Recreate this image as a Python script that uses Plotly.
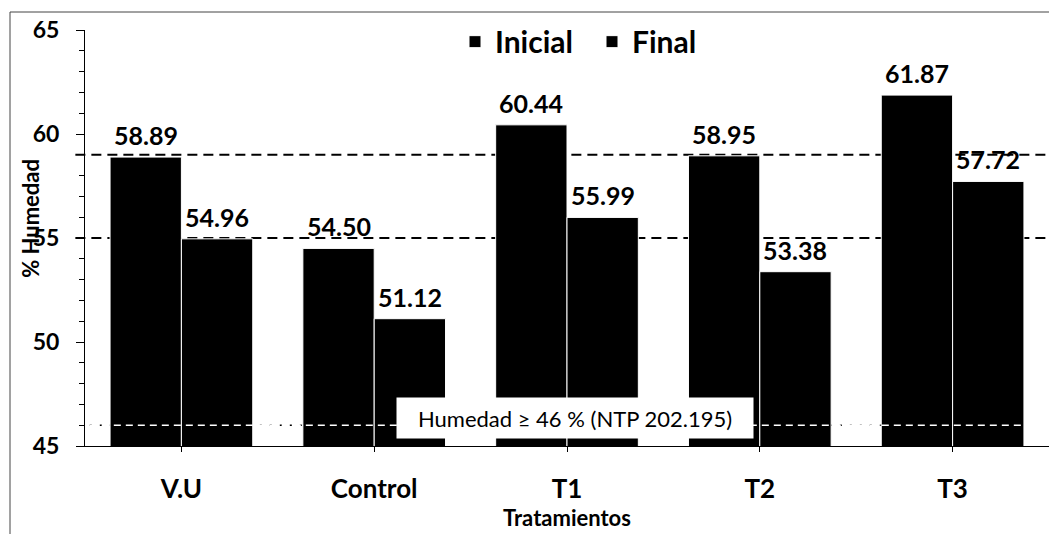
import plotly.graph_objects as go

# Moisture content per treatment, initial vs final
tratamientos = ["V.U", "Control", "T1", "T2", "T3"]
inicial = [58.89, 54.50, 60.44, 58.95, 61.87]
final = [54.96, 51.12, 55.99, 53.38, 57.72]

ref_lines = [59, 55]      # dashed reference levels
limite_ntp = 46           # minimum moisture from NTP 202.195
y_ticks = [45, 50, 55, 60, 65]

FONT = "Lato"
W, H = 1049, 534
ML, MR, MT, MB = 85, 0, 30, 88
plot_w = W - ML - MR
bargap = 0.26
bar_px = plot_w / len(tratamientos) * (1 - bargap) / 2

fig = go.Figure()
fig.add_trace(go.Bar(name="Inicial", x=tratamientos, y=inicial,
                     marker=dict(color="black", line=dict(color="white", width=1))))
fig.add_trace(go.Bar(name="Final", x=tratamientos, y=final,
                     marker=dict(color="black", line=dict(color="white", width=1))))

# value labels above each bar
annotations = []
for vals, sign in ((inicial, -1), (final, 1)):
    for cat, v in zip(tratamientos, vals):
        annotations.append(dict(
            x=cat, y=v, xref="x", yref="y", text=f"{v:.2f}", showarrow=False,
            xshift=sign * bar_px / 2, yshift=5, yanchor="bottom",
            font=dict(family=FONT, size=25, color="black", weight="bold")))

# NTP note box
annotations.append(dict(
    x=0.508, y=46.37, xref="paper", yref="y", showarrow=False,
    text="Humedad ≥ 46 % (NTP 202.195)", bgcolor="white",
    width=354, height=38, align="center",
    font=dict(family=FONT, size=22, color="black")))

# rotated y-axis title
annotations.append(dict(
    x=(31 - ML) / plot_w, y=0.546, xref="paper", yref="paper", showarrow=False,
    xanchor="center", yanchor="middle",
    text="% Humedad", textangle=-90,
    font=dict(family=FONT, size=22, color="black", weight="bold")))

shapes = []
for lvl in ref_lines:
    shapes.append(dict(type="line", xref="paper", yref="y", x0=-0.01, x1=1,
                       y0=lvl, y1=lvl, layer="below",
                       line=dict(color="black", width=2, dash="10px,6px")))
shapes.append(dict(type="line", xref="paper", yref="y", x0=0.005, x1=0.98,
                   y0=limite_ntp, y1=limite_ntp, layer="below",
                   line=dict(color="black", width=1.5, dash="2px,8px")))
shapes.append(dict(type="line", xref="paper", yref="y", x0=0.005, x1=0.98,
                   y0=limite_ntp, y1=limite_ntp, layer="above",
                   line=dict(color="white", width=1.5, dash="7px,5px")))

# outer frame (left and top edges)
plot_h = H - MT - MB
fx = (10 - ML) / plot_w
fy_top = 1 + (MT - 12) / plot_h
fy_bot = -(H - (H - MB)) / plot_h
shapes.append(dict(type="line", xref="paper", yref="paper", x0=fx, x1=fx,
                   y0=fy_bot, y1=fy_top, line=dict(color="#444", width=1)))
shapes.append(dict(type="line", xref="paper", yref="paper", x0=fx, x1=1.0,
                   y0=fy_top, y1=fy_top, line=dict(color="#444", width=1)))

fig.update_layout(
    width=W, height=H,
    margin=dict(l=ML, r=MR, t=MT, b=MB),
    paper_bgcolor="white", plot_bgcolor="white",
    barmode="group", bargap=bargap, bargroupgap=0,
    font=dict(family=FONT, color="black"),
    legend=dict(orientation="h", x=(455 - ML) / plot_w, xanchor="left", y=0.972,
                yanchor="middle", font=dict(family=FONT, size=30, weight="bold"),
                bgcolor="rgba(0,0,0,0)", itemwidth=30, entrywidth=92),
    annotations=annotations,
    shapes=shapes,
    xaxis=dict(
        showline=True, linecolor="black", linewidth=1,
        ticks="outside", ticklen=5, tickcolor="black",
        tickfont=dict(family=FONT, size=26, weight="bold"),
        ticklabelstandoff=15,
        title=dict(text="Tratamientos", standoff=2,
                   font=dict(family=FONT, size=22, weight="bold")),
        showgrid=False),
    yaxis=dict(
        range=[45, 65], tickvals=y_ticks,
        showline=True, linecolor="black", linewidth=1,
        ticks="outside", ticklen=8, tickcolor="black",
        minor=dict(dtick=1, ticks="outside", ticklen=5, tickcolor="black"),
        tickfont=dict(family=FONT, size=23, weight="bold"),
        ticklabelstandoff=12,
        showgrid=False, zeroline=False),
)

fig.write_html("out.html")
